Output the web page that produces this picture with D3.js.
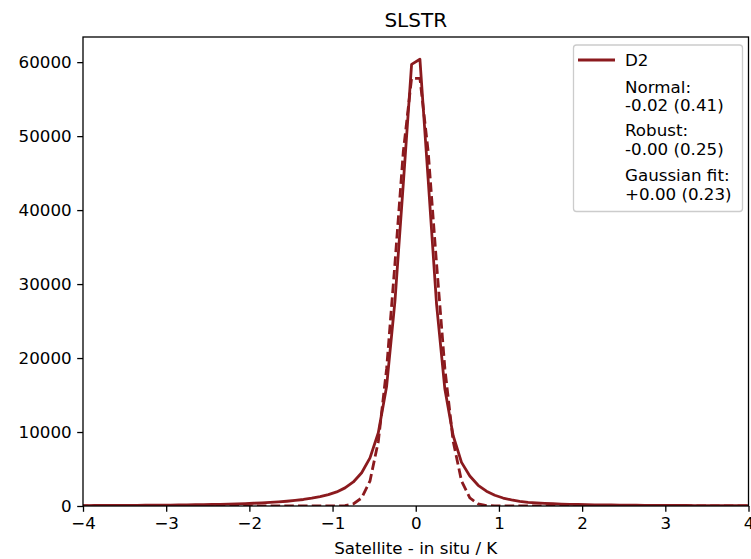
<!DOCTYPE html>
<html>
<head>
<meta charset="utf-8">
<script src="https://cdn.jsdelivr.net/npm/d3@7"></script>
<style>
  body { margin: 0; background: #fff; }
  text { font-family: "DejaVu Sans", sans-serif; }
</style>
</head>
<body>
<div id="chart"></div>
<script>
// bin centres (K) of the histogram, 0.1 K wide
var binCentres = [-4.05, -3.95, -3.85, -3.75, -3.65, -3.55, -3.45, -3.35, -3.25, -3.15,
  -3.05, -2.95, -2.85, -2.75, -2.65, -2.55, -2.45, -2.35, -2.25, -2.15,
  -2.05, -1.95, -1.85, -1.75, -1.65, -1.55, -1.45, -1.35, -1.25, -1.15,
  -1.05, -0.95, -0.85, -0.75, -0.65, -0.55, -0.45, -0.35, -0.25, -0.15,
  -0.05, 0.05, 0.15, 0.25, 0.35, 0.45, 0.55, 0.65, 0.75, 0.85,
  0.95, 1.05, 1.15, 1.25, 1.35, 1.45, 1.55, 1.65, 1.75, 1.85,
  1.95, 2.05, 2.15, 2.25, 2.35, 2.45, 2.55, 2.65, 2.75, 2.85,
  2.95, 3.05, 3.15, 3.25, 3.35, 3.45, 3.55, 3.65, 3.75, 3.85,
  3.95, 4.05];

// D2 counts per bin
var d2Counts = [60, 60, 65, 70, 75, 80, 85, 90, 100, 110,
  120, 130, 140, 155, 170, 185, 205, 225, 255, 290,
  330, 370, 420, 480, 550, 640, 750, 880, 1050, 1260,
  1530, 1900, 2450, 3250, 4500, 6500, 9900, 16200, 27700, 43500,
  59700, 60400, 44000, 27300, 15800, 9500, 5900, 4050, 2800, 2000,
  1450, 1080, 820, 630, 500, 420, 355, 305, 265, 232,
  205, 182, 162, 146, 132, 120, 110, 101, 93, 86,
  80, 75, 70, 66, 62, 58, 55, 52, 49, 46,
  44, 42];

// gaussian fit evaluated at the bin centres
var d2Fit = [0, 0, 0, 0, 0, 0, 0, 0, 0, 0,
  0, 0, 0, 0, 0, 0, 0, 0, 0, 0,
  0, 0, 0, 0, 0, 0, 0, 0, 0, 0,
  2, 12, 64, 290, 1090, 3390, 8730, 18600, 32790, 47860,
  57820, 57820, 47860, 32790, 18600, 8730, 3390, 1090, 290, 64,
  12, 2, 0, 0, 0, 0, 0, 0, 0, 0,
  0, 0, 0, 0, 0, 0, 0, 0, 0, 0,
  0, 0, 0, 0, 0, 0, 0, 0, 0, 0,
  0, 0];

var xTicks = [-4, -3, -2, -1, 0, 1, 2, 3, 4];
var yTicks = [0, 10000, 20000, 30000, 40000, 50000, 60000];
var legendLines = [["Normal:", "-0.02 (0.41)"], ["Robust:", "-0.00 (0.25)"], ["Gaussian fit:", "+0.00 (0.23)"]];

var W = 751, H = 559;
var mLeft = 83, mRight = 748.5, mTop = 37, mBottom = 506;
var col = "#8b1a1e";
var fs = 16.7;

var svg = d3.select("#chart").append("svg")
  .attr("width", W).attr("height", H);

var x = d3.scaleLinear().domain([-4, 4]).range([mLeft, mRight]);
var y = d3.scaleLinear().domain([0, 63400]).range([mBottom, mTop]);

svg.append("defs").append("clipPath").attr("id", "clip")
  .append("rect").attr("x", mLeft).attr("y", mTop)
  .attr("width", mRight - mLeft).attr("height", mBottom - mTop);

var pts = binCentres.map(function(c, i) { return [c, d2Counts[i], d2Fit[i]]; });

var lineData = d3.line().x(function(d) { return x(d[0]); }).y(function(d) { return y(d[1]); });
var lineFit = d3.line().x(function(d) { return x(d[0]); }).y(function(d) { return y(d[2]); });

var plot = svg.append("g").attr("clip-path", "url(#clip)");

plot.append("path").datum(pts)
  .attr("d", lineFit)
  .attr("fill", "none").attr("stroke", col)
  .attr("stroke-width", 2.8)
  .attr("stroke-dasharray", "9.5,4.2");

plot.append("path").datum(pts)
  .attr("d", lineData)
  .attr("fill", "none").attr("stroke", col)
  .attr("stroke-width", 2.8)
  .attr("stroke-linejoin", "round");

// axes
var xAxis = d3.axisBottom(x).tickValues(xTicks).tickFormat(d3.format("d"))
  .tickSizeInner(5.8).tickSizeOuter(0).tickPadding(5.5);
var yAxis = d3.axisLeft(y).tickValues(yTicks).tickFormat(d3.format("d"))
  .tickSizeInner(5.8).tickSizeOuter(0).tickPadding(5.5);

var gx = svg.append("g").attr("transform", "translate(0," + mBottom + ")").call(xAxis);
var gy = svg.append("g").attr("transform", "translate(" + mLeft + ",0)").call(yAxis);
[gx, gy].forEach(function(g) {
  g.select(".domain").remove();
  g.selectAll(".tick line").attr("stroke", "#000").attr("stroke-width", 1.3);
  g.selectAll(".tick text").attr("fill", "#000")
    .style("font-size", fs + "px").style("font-family", "DejaVu Sans");
});

// spines
svg.append("rect")
  .attr("x", mLeft).attr("y", mTop)
  .attr("width", mRight - mLeft).attr("height", mBottom - mTop)
  .attr("fill", "none").attr("stroke", "#000").attr("stroke-width", 1.3);

// title & label
svg.append("text")
  .attr("x", (mLeft + mRight) / 2).attr("y", 27)
  .attr("text-anchor", "middle")
  .style("font-size", "20px")
  .text("SLSTR");

svg.append("text")
  .attr("x", (mLeft + mRight) / 2).attr("y", 554)
  .attr("text-anchor", "middle")
  .style("font-size", fs + "px")
  .text("Satellite - in situ / K");

// legend
var lg = svg.append("g");
lg.append("rect")
  .attr("x", 573.5).attr("y", 45)
  .attr("width", 169).attr("height", 166.5)
  .attr("rx", 3).attr("ry", 3)
  .attr("fill", "#fff").attr("fill-opacity", 0.8)
  .attr("stroke", "#cccccc").attr("stroke-width", 1.3);

lg.append("line")
  .attr("x1", 578).attr("x2", 615)
  .attr("y1", 60).attr("y2", 60)
  .attr("stroke", col).attr("stroke-width", 2.8);

lg.append("text").attr("x", 625).attr("y", 66)
  .style("font-size", fs + "px").text("D2");

var baseY = [92.5, 136, 181];
legendLines.forEach(function(pair, i) {
  lg.append("text").attr("x", 625).attr("y", baseY[i])
    .style("font-size", fs + "px").text(pair[0]);
  lg.append("text").attr("x", 625).attr("y", baseY[i] + 18.5)
    .style("font-size", fs + "px").text(pair[1]);
});
</script>
</body>
</html>
